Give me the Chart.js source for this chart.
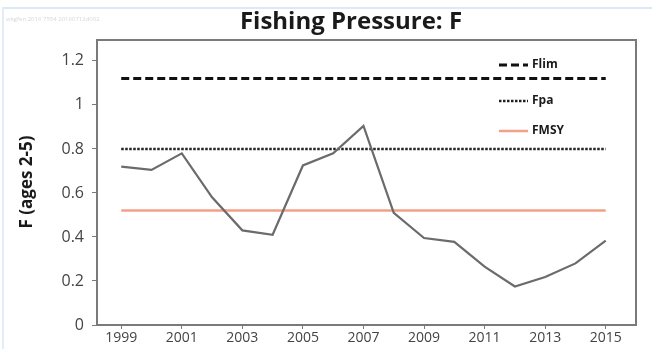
<!DOCTYPE html>
<html lang="en">
<head>
  <meta charset="UTF-8">
  <title>Fishing Pressure: F</title>
  <style>
    html, body { margin: 0; padding: 0; background: #fff; }
    #wrap { position: relative; width: 652px; height: 349px; overflow: hidden; }
    #frame { position: absolute; left: 2px; top: 7px; right: -4px; bottom: -4px;
             border-top: 2px solid #dde9f8; border-left: 2px solid #e3edf9; }
    canvas { position: absolute; left: 0; top: 0; }
  </style>
</head>
<body>
  <div id="wrap">
    <div id="frame"></div>
    <canvas id="myChart" width="652" height="349"></canvas>
  </div>

  <script src="https://cdn.jsdelivr.net/npm/chart.js"></script>

  <script>
    const years = [1999, 2000, 2001, 2002, 2003, 2004, 2005, 2006, 2007,
                   2008, 2009, 2010, 2011, 2012, 2013, 2014, 2015];
    const fValues = [0.72, 0.705, 0.78, 0.58, 0.43, 0.41, 0.725, 0.78, 0.905,
                     0.51, 0.395, 0.378, 0.265, 0.175, 0.218, 0.28, 0.383];
    const flim = 1.12;
    const fpa = 0.8;
    const fmsy = 0.52;
    const yearTicks = [1999, 2001, 2003, 2005, 2007, 2009, 2011, 2013, 2015];
    const yTicks = [0, 0.2, 0.4, 0.6, 0.8, 1, 1.2];

    const ctx = document.getElementById('myChart').getContext('2d');
    const font = "'Open Sans', sans-serif";

    const flat = (v) => years.map((y) => ({ x: y, y: v }));

    // box around the plot area, titles and the little stamp in the corner
    const decor = {
      id: 'decor',
      afterDraw(chart) {
        const { ctx, chartArea: a } = chart;
        ctx.save();
        ctx.strokeStyle = '#7a7a7a';
        ctx.lineWidth = 2;
        ctx.strokeRect(a.left, a.top, a.right - a.left, a.bottom - a.top);

        ctx.fillStyle = '#1a1a1a';
        ctx.font = "bold 24px " + font;
        ctx.textAlign = 'center';
        ctx.textBaseline = 'middle';
        ctx.fillText('Fishing Pressure: F', 351, 22);

        ctx.save();
        ctx.translate(27, 182);
        ctx.rotate(-Math.PI / 2);
        ctx.font = "bold 17px " + font;
        ctx.fillText('F (ages 2-5)', 0, 0);
        ctx.restore();

        ctx.fillStyle = '#d3d7dd';
        ctx.font = "6px " + font;
        ctx.textAlign = 'left';
        ctx.fillText('wkgfen 2016 7554 20160712d002', 6, 19);
        ctx.restore();
      }
    };

    // stacked legend inside the top-right corner of the plot
    const cornerLegend = {
      id: 'cornerLegend',
      afterDatasetsDraw(chart) {
        const { ctx, chartArea: a } = chart;
        const rows = [1, 2, 3];
        const rowY = [65, 101, 131];
        ctx.save();
        rows.forEach((i, k) => {
          const ds = chart.data.datasets[i];
          const y = rowY[k];
          ctx.beginPath();
          ctx.strokeStyle = ds.borderColor;
          ctx.lineWidth = ds.borderWidth;
          ctx.setLineDash(ds.borderDash || []);
          ctx.moveTo(a.right - 137, y);
          ctx.lineTo(a.right - 108, y);
          ctx.stroke();
          ctx.setLineDash([]);
          ctx.fillStyle = '#1a1a1a';
          ctx.font = "bold 12px " + font;
          ctx.textAlign = 'left';
          ctx.textBaseline = 'middle';
          ctx.fillText(ds.label, a.right - 104, y);
        });
        ctx.restore();
      }
    };

    new Chart(ctx, {
      type: 'line',
      data: {
        datasets: [
          { label: 'F', data: years.map((y, i) => ({ x: y, y: fValues[i] })),
            borderColor: '#6b6b6b', borderWidth: 2.2, pointRadius: 0, tension: 0 },
          { label: 'Flim', data: flat(flim), borderColor: '#111', borderWidth: 3,
            borderDash: [8, 4], pointRadius: 0 },
          { label: 'Fpa', data: flat(fpa), borderColor: '#222', borderWidth: 2.5,
            borderDash: [2.5, 1.5], pointRadius: 0 },
          { label: 'FMSY', data: flat(fmsy), borderColor: '#f2a088', borderWidth: 2.5,
            pointRadius: 0 }
        ]
      },
      plugins: [decor, cornerLegend],
      options: {
        responsive: false,
        animation: false,
        layout: { padding: { top: 40, right: 16, left: 0, bottom: 0 } },
        plugins: { legend: { display: false }, tooltip: { enabled: false } },
        scales: {
          x: {
            type: 'linear',
            min: 1998.2,
            max: 2016,
            afterBuildTicks: (s) => { s.ticks = yearTicks.map((v) => ({ value: v })); },
            afterFit: (s) => { s.height = 24; },
            grid: { drawOnChartArea: false, drawTicks: true, tickLength: 4, color: '#7a7a7a' },
            border: { display: false },
            ticks: { color: '#444', padding: 1, maxRotation: 0,
                     font: { family: font, size: 14 }, callback: (v) => String(v) }
          },
          y: {
            min: 0,
            max: 1.295,
            afterBuildTicks: (s) => { s.ticks = yTicks.map((v) => ({ value: v })); },
            afterFit: (s) => { s.width = 97; },
            grid: { drawOnChartArea: false, drawTicks: true, tickLength: 5, color: '#7a7a7a' },
            border: { display: false },
            ticks: { color: '#444', padding: 8, font: { family: font, size: 16 },
                     callback: (v) => String(v) }
          }
        }
      }
    });
  </script>
</body>
</html>
